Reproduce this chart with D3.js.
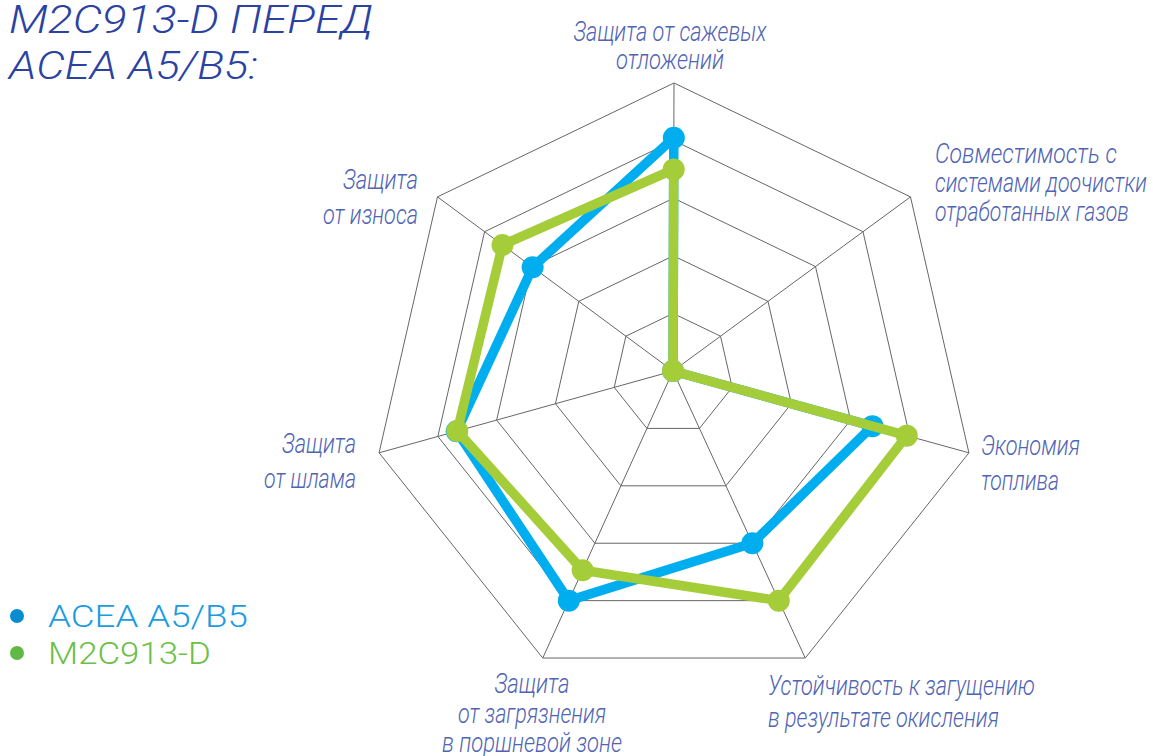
<!DOCTYPE html>
<html>
<head>
<meta charset="utf-8">
<script src="https://cdn.jsdelivr.net/npm/d3@7"></script>
<style>
  html, body { margin: 0; padding: 0; background: #fff; }
  svg { display: block; }
  text { font-family: Roboto, "Open Sans", "Liberation Sans", sans-serif; font-style: italic; font-weight: 300; }
</style>
</head>
<body>
<svg id="chart" width="1153" height="756"></svg>
<script>
// axis names, clockwise from the top (one entry per text line)
const axisLabels = [
  ['Защита от сажевых', 'отложений'],
  ['Совместимость с', 'системами доочистки', 'отработанных газов'],
  ['Экономия', 'топлива'],
  ['Устойчивость к загущению', 'в результате окисления'],
  ['Защита', 'от загрязнения', 'в поршневой зоне'],
  ['Защита', 'от шлама'],
  ['Защита', 'от износа']
];
const seriesNames = ['ACEA A5/B5', 'M2C913-D'];
const aceaValues = [4.05, 0, 3.37, 3.0, 4.0, 3.68, 2.98];
const m2cValues  = [3.5, 0, 3.95, 4.0, 3.47, 3.67, 3.62];
const gridLevels = [1, 2, 3, 4, 5];
const titleLines = ['M2C913-D ПЕРЕД', 'ACEA A5/B5:'];

// layout (text placement: x, anchor, baselines, widths of each line)
const labelLayout = [
  { x: 670, anchor: 'middle', y: [41, 69],        w: [193, 108] },
  { x: 935, anchor: 'start',  y: [163, 192, 221], w: [182, 212, 194] },
  { x: 981, anchor: 'start',  y: [455, 490],      w: [99, 78] },
  { x: 768, anchor: 'start',  y: [695, 727],      w: [267, 231] },
  { x: 532, anchor: 'middle', y: [693, 723, 752], w: [75, 148, 180] },
  { x: 356, anchor: 'end',    y: [453, 488],      w: [74, 92] },
  { x: 418, anchor: 'end',    y: [189, 224],      w: [75, 95] }
];

const colors = { acea: '#00aeef', m2c: '#a4cd39', grid: '#666', label: '#5064b4', title: '#2b42a3' };

const svg = d3.select('#chart');
const n = axisLabels.length;

// outer heptagon and the point where spokes meet
const center = [674, 385.5];
const outerR = 302.5;
const origin = [673, 371];

const angle = d3.scaleLinear().domain([0, n]).range([0, 2 * Math.PI]);
const r = d3.scaleLinear().domain([0, 5]).range([0, 1]);

const outer = d3.range(n).map(i => [
  center[0] + outerR * Math.sin(angle(i)),
  center[1] - outerR * Math.cos(angle(i))
]);
const pos = (i, v) => d3.interpolateArray(origin, outer[i])(r(v));

const closed = d3.line().curve(d3.curveLinearClosed);

// squeeze a text horizontally to a wanted width (condensed look)
function fitText(sel, x, y, w) {
  sel.attr('x', 0).attr('y', 0);
  const natural = sel.node().getComputedTextLength();
  sel.attr('transform', `translate(${x},${y}) scale(${w / natural},1)`);
}

// grid rings
svg.append('g')
  .selectAll('path')
  .data(gridLevels)
  .join('path')
    .attr('d', lv => closed(d3.range(n).map(i => pos(i, lv))))
    .attr('fill', 'none')
    .attr('stroke', colors.grid)
    .attr('stroke-width', 1);

// spokes
svg.append('g')
  .selectAll('line')
  .data(d3.range(n))
  .join('line')
    .attr('x1', origin[0]).attr('y1', origin[1])
    .attr('x2', i => outer[i][0]).attr('y2', i => outer[i][1])
    .attr('stroke', colors.grid)
    .attr('stroke-width', 1);

// series
const series = [
  { key: 'acea', values: aceaValues, color: colors.acea },
  { key: 'm2c',  values: m2cValues,  color: colors.m2c }
];

series.forEach(s => {
  const pts = s.values.map((v, i) => pos(i, v));
  const g = svg.append('g');
  g.append('path')
    .attr('d', closed(pts))
    .attr('fill', 'none')
    .attr('stroke', s.color)
    .attr('stroke-width', 9.5)
    .attr('stroke-linejoin', 'round');
  g.selectAll('circle')
    .data(pts)
    .join('circle')
      .attr('cx', d => d[0])
      .attr('cy', d => d[1])
      .attr('r', 11)
      .attr('fill', s.color);
});

// axis labels
axisLabels.forEach((lines, i) => {
  const L = labelLayout[i];
  const t = svg.append('g');
  lines.forEach((line, j) => {
    const txt = t.append('text')
      .attr('text-anchor', L.anchor)
      .attr('font-size', 27)
      .attr('fill', colors.label)
      .text(line);
    fitText(txt, L.x, L.y[j], L.w[j]);
  });
});

// title
const titleW = [364, 249];
titleLines.forEach((line, j) => {
  const txt = svg.append('text')
    .attr('font-size', 39)
    .attr('fill', colors.title)
    .text(line);
  fitText(txt, 9, [33, 79][j], titleW[j]);
});

// legend
const legendText = ['#1b9ce0', '#6cbf47'];
const legendDot = ['#0a8cd0', '#60b945'];
const legendW = [200, 163];
seriesNames.forEach((name, j) => {
  const y = 616 + j * 37;
  svg.append('circle')
    .attr('cx', 17).attr('cy', y).attr('r', 7)
    .attr('fill', legendDot[j]);
  const txt = svg.append('text')
    .attr('font-size', 32)
    .style('font-style', 'normal')
    .attr('fill', legendText[j])
    .text(name);
  fitText(txt, 48, y + 10.5, legendW[j]);
});
</script>
</body>
</html>
